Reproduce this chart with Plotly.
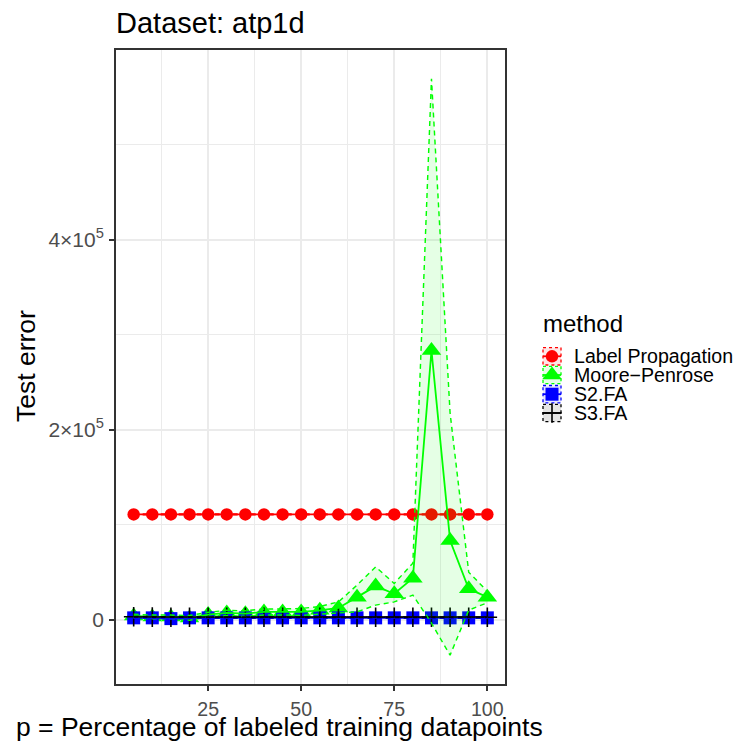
import plotly.graph_objects as go

# ---------------- data ----------------
percent = [5, 10, 15, 20, 25, 30, 35, 40, 45, 50, 55, 60, 65, 70, 75, 80, 85, 90, 95, 100]
methods = ["Label Propagation", "Moore\u2212Penrose", "S2.FA", "S3.FA"]

lp_mean = [111000, 111000, 111000, 111000, 111000, 111000, 111000, 111000, 111000, 111000,
           111000, 111000, 111000, 111000, 111000, 111000, 111000, 111000, 111000, 111000]
lp_lower = [110500, 110500, 110500, 110500, 110500, 110500, 110500, 110500, 110500, 110500,
            110500, 110500, 110500, 110500, 110500, 110500, 110500, 110500, 110500, 110500]
lp_upper = [111500, 111500, 111500, 111500, 111500, 111500, 111500, 111500, 111500, 111500,
            111500, 111500, 111500, 111500, 111500, 111500, 111500, 111500, 111500, 111500]

mp_mean = [4100, 3100, 3100, 2000, 5500, 7300, 6500, 8300, 8300, 8300,
           10000, 12500, 23900, 35500, 27400, 43900, 283500, 83500, 32600, 23900]
mp_lower = [2200, 1200, 1200, -500, 3000, 4600, 3500, 5100, 5100, 4600,
            6000, 7000, 8400, 15500, 18900, 26000, -3500, -37200, 10200, 18000]
mp_upper = [6000, 5000, 5000, 4500, 8000, 10000, 9500, 11500, 11500, 12000,
            14000, 18900, 36500, 55800, 38300, 59700, 569500, 217600, 50200, 30000]

s2_mean = [2100, 2100, 1300, 2100, 2100, 2100, 2100, 2100, 2100, 2100,
           2100, 2100, 2100, 2100, 2100, 2100, 2100, 2100, 2100, 2100]
s2_lower = [1700, 1700, 900, 1700, 1700, 1700, 1700, 1700, 1700, 1700,
            1700, 1700, 1700, 1700, 1700, 1700, 1700, 1700, 1700, 1700]
s2_upper = [2500, 2500, 1700, 2500, 2500, 2500, 2500, 2500, 2500, 2500,
            2500, 2500, 2500, 2500, 2500, 2500, 2500, 2500, 2500, 2500]

s3_mean = [3200, 2900, 2800, 2800, 2800, 2800, 2800, 2800, 2800, 2800,
           2800, 2800, 2800, 2800, 2800, 2800, 2800, 2800, 2800, 2800]
s3_lower = [2900, 2600, 2500, 2500, 2500, 2500, 2500, 2500, 2500, 2500,
            2500, 2500, 2500, 2500, 2500, 2500, 2500, 2500, 2500, 2500]
s3_upper = [3500, 3200, 3100, 3100, 3100, 3100, 3100, 3100, 3100, 3100,
            3100, 3100, 3100, 3100, 3100, 3100, 3100, 3100, 3100, 3100]

y_tickvals = [0, 200000, 400000]
y_ticktext = ["0", "2\u00d710<sup>5</sup>", "4\u00d710<sup>5</sup>"]
y_minor = [100000, 300000, 500000]
x_tickvals = [25, 50, 75, 100]
x_minor = [12.5, 37.5, 62.5, 87.5]

# ---------------- styles ----------------
colors = ["#FF0000", "#00FF00", "#0000FF", "#000000"]
fills = ["rgba(255,0,0,0.1)", "rgba(0,255,0,0.1)", "rgba(0,0,255,0.1)", "rgba(0,0,0,0.1)"]
symbols = ["circle", "triangle-up", "square", "cross-thin"]
sizes = [12.5, 17, 13, 14]
means = [lp_mean, mp_mean, s2_mean, s3_mean]
lowers = [lp_lower, mp_lower, s2_lower, s3_lower]
uppers = [lp_upper, mp_upper, s2_upper, s3_upper]

FONT = "Liberation Sans, Arial, sans-serif"
LW = 1.8
DASH = "5px,4px"


def marker_style(i):
    if symbols[i] == "cross-thin":
        return dict(symbol=symbols[i], size=sizes[i], color=colors[i],
                    line=dict(color=colors[i], width=1.6))
    return dict(symbol=symbols[i], size=sizes[i], color=colors[i], line=dict(width=0))


fig = go.Figure()

# points
for i in range(4):
    fig.add_trace(go.Scatter(x=percent, y=means[i], mode="markers", marker=marker_style(i),
                             showlegend=False, hoverinfo="skip"))
# lines
for i in range(4):
    fig.add_trace(go.Scatter(x=percent, y=means[i], mode="lines",
                             line=dict(color=colors[i], width=LW), showlegend=False, hoverinfo="skip"))
# ribbons
for i in range(4):
    fig.add_trace(go.Scatter(x=percent, y=lowers[i], mode="lines",
                             line=dict(color=colors[i], width=LW * 0.8, dash=DASH),
                             showlegend=False, hoverinfo="skip"))
    fig.add_trace(go.Scatter(x=percent, y=uppers[i], mode="lines", fill="tonexty", fillcolor=fills[i],
                             line=dict(color=colors[i], width=LW * 0.8, dash=DASH),
                             showlegend=False, hoverinfo="skip"))

# axis ranges (ggplot-like 5% expansion)
xmin, xmax = min(percent), max(percent)
xpad = (xmax - xmin) * 0.05
all_low = min(min(l) for l in lowers)
all_high = max(max(u) for u in uppers)
ypad = (all_high - all_low) * 0.05

# ---------------- custom legend (pixel-space helper axes) ----------------
key_cy = [356.3, 375.0, 394.2, 413.0]
key_x0, key_x1 = 543.0, 561.0
key_h = 17.4
shapes = []
for i in range(4):
    shapes.append(dict(type="rect", xref="x2", yref="y2", x0=key_x0, x1=key_x1,
                       y0=key_cy[i] - key_h / 2, y1=key_cy[i] + key_h / 2,
                       fillcolor=fills[i], line=dict(color=colors[i], width=1.3, dash="3px,3px"),
                       layer="below"))
    shapes.append(dict(type="line", xref="x2", yref="y2", x0=key_x0, x1=key_x1,
                       y0=key_cy[i], y1=key_cy[i], line=dict(color=colors[i], width=LW)))
for i in range(4):
    fig.add_trace(go.Scatter(x=[(key_x0 + key_x1) / 2], y=[key_cy[i]], mode="markers",
                             marker=marker_style(i), xaxis="x2", yaxis="y2",
                             showlegend=False, hoverinfo="skip"))

annotations = [
    dict(text="method", xref="x2", yref="y2", x=541, y=323, xanchor="left", yanchor="middle",
         showarrow=False, font=dict(family=FONT, size=24, color="black")),
]
for i in range(4):
    annotations.append(dict(text=methods[i], xref="x2", yref="y2", x=572, y=key_cy[i],
                            xanchor="left", yanchor="middle", showarrow=False,
                            font=dict(family=FONT, size=19.6, color="black")))
# title
annotations.append(dict(text="Dataset: atp1d", xref="x2", yref="y2", x=114, y=23,
                        xanchor="left", yanchor="middle", showarrow=False,
                        font=dict(family=FONT, size=29, color="black")))
# axis titles
annotations.append(dict(text="p = Percentage of labeled training datapoints", xref="x2", yref="y2",
                        x=279, y=727, xanchor="center", yanchor="middle", showarrow=False,
                        font=dict(family=FONT, size=26.5, color="black")))
annotations.append(dict(text="Test error", xref="x2", yref="y2", x=26, y=366, textangle=-90,
                        xanchor="center", yanchor="middle", showarrow=False,
                        font=dict(family=FONT, size=26.5, color="black")))

W, H = 738, 745
panel_l, panel_r, panel_t, panel_b = 116, 505, 50, 684

fig.update_layout(
    width=W, height=H,
    margin=dict(l=0, r=0, t=0, b=0, pad=0),
    paper_bgcolor="white", plot_bgcolor="rgba(0,0,0,0)",
    showlegend=False,
    font=dict(family=FONT, color="#4D4D4D"),
    xaxis=dict(domain=[panel_l / W, panel_r / W], range=[xmin - xpad, xmax + xpad],
               tickvals=x_tickvals, ticks="outside", ticklen=5, tickwidth=LW, tickcolor="#333333",
               tickfont=dict(family=FONT, size=19.6, color="#4D4D4D"), ticklabelstandoff=2,
               showgrid=True, gridcolor="#EBEBEB", gridwidth=LW,
               minor=dict(tickvals=x_minor, showgrid=True, gridcolor="#EBEBEB", gridwidth=0.9, ticks=""),
               zeroline=False, showline=True, mirror=True, linecolor="#333333", linewidth=LW,
               anchor="y"),
    yaxis=dict(domain=[1 - panel_b / H, 1 - panel_t / H], range=[all_low - ypad, all_high + ypad],
               tickvals=y_tickvals, ticktext=y_ticktext, ticks="outside", ticklen=5, tickwidth=LW,
               tickcolor="#333333", tickfont=dict(family=FONT, size=21, color="#4D4D4D"),
               ticklabelstandoff=1,
               showgrid=True, gridcolor="#EBEBEB", gridwidth=LW,
               minor=dict(tickvals=y_minor, showgrid=True, gridcolor="#EBEBEB", gridwidth=0.9, ticks=""),
               zeroline=False, showline=True, mirror=True, linecolor="#333333", linewidth=LW,
               anchor="x"),
    xaxis2=dict(domain=[0, 1], range=[0, W], visible=False, fixedrange=True, anchor="y2"),
    yaxis2=dict(domain=[0, 1], range=[H, 0], visible=False, fixedrange=True, anchor="x2"),
    shapes=shapes,
    annotations=annotations,
)

fig.write_html("out.html", config={"displayModeBar": False},
               post_script="document.body.style.margin='0px';")
